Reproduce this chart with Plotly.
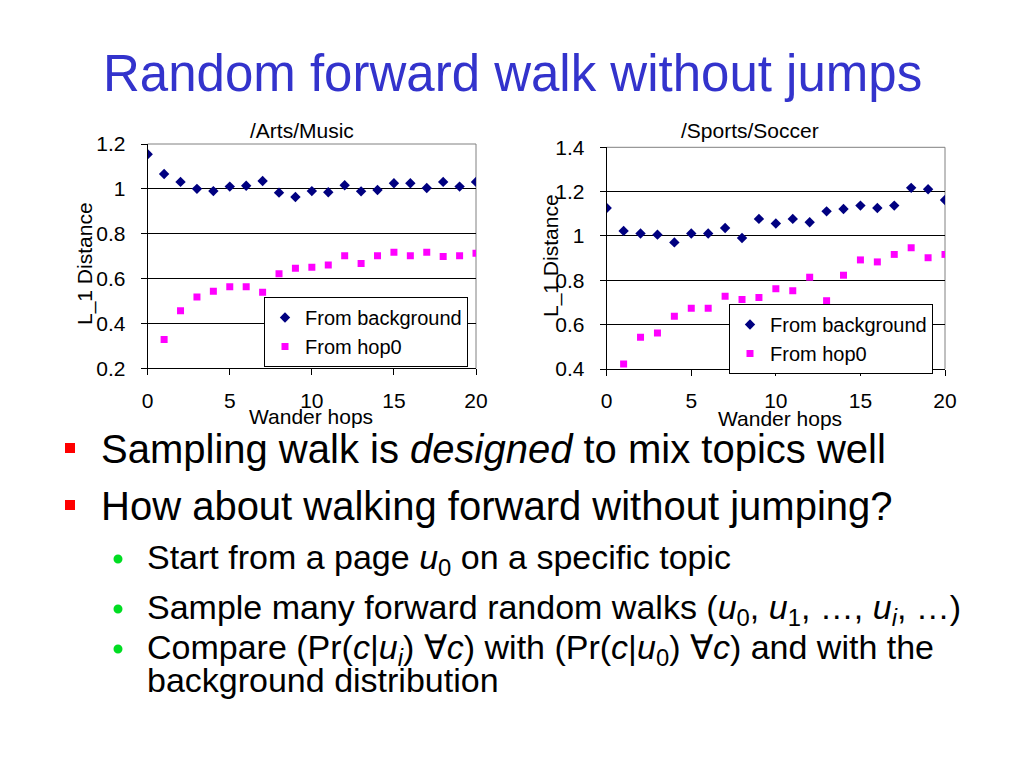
import plotly.graph_objects as go

# ---------------- data ----------------
hops = list(range(0, 21))
hops_hop0 = list(range(1, 21))

music_background = [1.154, 1.066, 1.031, 1.000, 0.990, 1.010, 1.014, 1.035, 0.983, 0.964,
                    0.990, 0.985, 1.016, 0.989, 0.995, 1.025, 1.025, 1.004, 1.031, 1.010, 1.031]
music_hop0 = [0.328, 0.457, 0.518, 0.543, 0.564, 0.564, 0.539, 0.621, 0.646, 0.650,
              0.661, 0.702, 0.667, 0.702, 0.717, 0.702, 0.717, 0.698, 0.702, 0.713]

soccer_background = [1.126, 1.023, 1.011, 1.006, 0.971, 1.011, 1.011, 1.036, 0.991, 1.077,
                     1.056, 1.077, 1.062, 1.111, 1.122, 1.137, 1.126, 1.137, 1.217, 1.211, 1.162]
soccer_hop0 = [0.423, 0.543, 0.562, 0.638, 0.674, 0.674, 0.728, 0.713, 0.722, 0.762,
               0.753, 0.814, 0.708, 0.823, 0.892, 0.883, 0.917, 0.947, 0.902, 0.917]

series_names = ["From background", "From hop0"]
chart_titles = ["/Arts/Music", "/Sports/Soccer"]
x_title = "Wander hops"
y_title = "L_1 Distance"
x_ticks = [0, 5, 10, 15, 20]
music_y_ticks = [0.2, 0.4, 0.6, 0.8, 1.0, 1.2]
soccer_y_ticks = [0.4, 0.6, 0.8, 1.0, 1.2, 1.4]

slide_title = "Random forward walk without jumps"
main_bullets = ["Sampling walk is <i>designed</i> to mix topics well",
                "How about walking forward without jumping?"]
sub_bullets = ["Start from a page <i>u</i><sub>0</sub> on a specific topic",
               "Sample many forward random walks (<i>u</i><sub>0</sub>, <i>u</i><sub>1</sub>, …, <i>u<sub>i</sub></i>, …)",
               "Compare (Pr(<i>c</i>|<i>u<sub>i</sub></i>) ∀<i>c</i>) with (Pr(<i>c</i>|<i>u</i><sub>0</sub>) ∀<i>c</i>) and with the",
               "background distribution"]

# ---------------- styling ----------------
W, H = 1024, 768
FONT = "Liberation Sans, Arial, sans-serif"
NAVY = "#000080"
MAGENTA = "#FF00FF"
TITLE_BLUE = "#3333CC"
CH = 21  # chart text size


def px(x):
    return x / W


def py(y):
    return 1 - y / H


fig = go.Figure()

fig.add_trace(go.Scatter(x=hops, y=music_background, mode="markers", name=series_names[0],
                         marker=dict(symbol="diamond", size=8, color=NAVY),
                         xaxis="x", yaxis="y", legend="legend"))
fig.add_trace(go.Scatter(x=hops_hop0, y=music_hop0, mode="markers", name=series_names[1],
                         marker=dict(symbol="square", size=7, color=MAGENTA),
                         xaxis="x", yaxis="y", legend="legend"))
fig.add_trace(go.Scatter(x=hops, y=soccer_background, mode="markers", name=series_names[0],
                         marker=dict(symbol="diamond", size=8, color=NAVY),
                         xaxis="x2", yaxis="y2", legend="legend2"))
fig.add_trace(go.Scatter(x=hops_hop0, y=soccer_hop0, mode="markers", name=series_names[1],
                         marker=dict(symbol="square", size=7, color=MAGENTA),
                         xaxis="x2", yaxis="y2", legend="legend2"))

axis_font = dict(family=FONT, size=CH, color="black")
xcommon = dict(range=[0, 20], tickvals=x_ticks, showgrid=False, zeroline=False,
               showline=True, linecolor="black", linewidth=1, ticks="outside",
               ticklen=6, tickcolor="black", tickfont=axis_font, ticklabelstandoff=7)
ycommon = dict(showgrid=True, gridcolor="black", gridwidth=1, zeroline=False,
               showline=True, linecolor="black", linewidth=1, ticks="outside",
               ticklen=6, tickcolor="black", tickfont=axis_font, ticklabelstandoff=11)

legend_common = dict(xanchor="left", yanchor="top", bgcolor="white",
                     bordercolor="black", borderwidth=1,
                     font=dict(family=FONT, size=CH - 1, color="black"),
                     itemwidth=30, tracegroupgap=0)

fig.update_layout(
    width=W, height=H,
    margin=dict(l=0, r=0, t=0, b=0, autoexpand=False),
    paper_bgcolor="white", plot_bgcolor="white",
    font=dict(family=FONT, color="black"),
    xaxis=dict(domain=[px(147.7), px(476)], anchor="y", **xcommon),
    yaxis=dict(domain=[py(368.3), py(144)], anchor="x", range=[0.2, 1.2],
               tickvals=music_y_ticks, **ycommon),
    xaxis2=dict(domain=[px(606.7), px(945)], anchor="y2", **xcommon),
    yaxis2=dict(domain=[py(369), py(147.3)], anchor="x2", range=[0.4, 1.4],
                tickvals=soccer_y_ticks, **ycommon),
    legend=dict(x=px(264), y=py(297), **legend_common),
    legend2=dict(x=px(729), y=py(304), **legend_common),
    showlegend=True,
)

shapes = []
# plot-area borders (grey top / right)
for xr, yr in (("x", "y"), ("x2", "y2")):
    shapes.append(dict(type="line", xref=f"{xr} domain", yref=f"{yr} domain",
                       x0=0, x1=1, y0=1, y1=1, line=dict(color="#808080", width=1), layer="below"))
    shapes.append(dict(type="line", xref=f"{xr} domain", yref=f"{yr} domain",
                       x0=1, x1=1, y0=0, y1=1, line=dict(color="#808080", width=1), layer="below"))

ann = []


def text(t, x, y, size, color="black", xanchor="center", yanchor="middle", angle=0):
    ann.append(dict(text=t, x=px(x), y=py(y), xref="paper", yref="paper",
                    xanchor=xanchor, yanchor=yanchor, showarrow=False, textangle=angle,
                    font=dict(family=FONT, size=size, color=color)))


# slide title
text(slide_title, 512, 74, 51, color=TITLE_BLUE)

# chart titles
text(chart_titles[0], 302, 131, CH)
text(chart_titles[1], 750, 130, CH)

# axis titles
text(x_title, 311, 416, CH)
text(x_title, 780, 418, CH)
text(y_title, 85, 264, CH, angle=-90)
text(y_title, 551, 256, CH, angle=-90)

# bullets
main_y = [449, 506]
for t, y in zip(main_bullets, main_y):
    shapes.append(dict(type="rect", xref="paper", yref="paper",
                       x0=px(65), x1=px(75), y0=py(y - 6), y1=py(y + 4),
                       fillcolor="#FF0000", line=dict(width=0)))
    text(t, 99, y, 40, xanchor="left")

sub_y = [559, 609, 649, 680]
for i, (t, y) in enumerate(zip(sub_bullets, sub_y)):
    if i < 3:
        shapes.append(dict(type="circle", xref="paper", yref="paper",
                           x0=px(113.5), x1=px(122.5), y0=py(y + 4.5), y1=py(y - 4.5),
                           fillcolor="#00DD22", line=dict(width=0)))
    text(t, 145, y, 34, xanchor="left")

fig.update_layout(annotations=ann, shapes=shapes)

fig.write_html("out.html", config={"displayModeBar": False},
               post_script="document.body.style.margin='0px';")
